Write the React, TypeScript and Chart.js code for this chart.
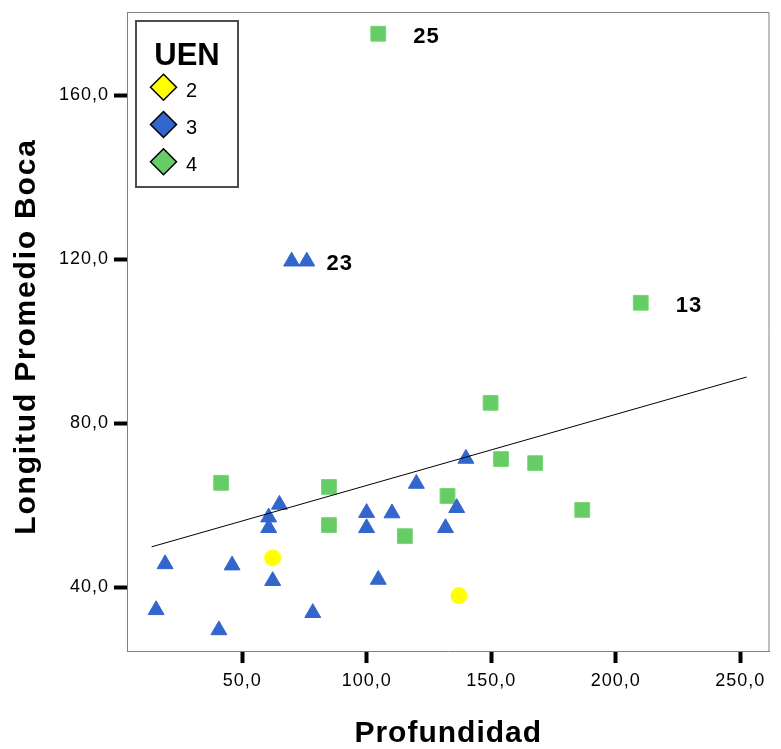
import { useEffect, useRef } from 'react';
import { Chart, registerables } from 'chart.js';

Chart.register(...registerables);

const FONT = '"Liberation Sans", Arial, Helvetica, sans-serif';

// Axis ticks and ranges
const xTickValues = [50, 100, 150, 200, 250];
const yTickValues = [40, 80, 120, 160];
const xRange = [3.7, 261.7];
const yRange = [24.5, 180.3];

// Axis titles
const xTitle = 'Profundidad';
const yTitle = 'Longitud Promedio Boca';

// Legend
const legendTitle = 'UEN';
const groupNames = ['2', '3', '4'];
const groupColors = ['#FFFF00', '#3366CC', '#66CC66'];

// UEN 2 (yellow circles)
const uen2X = [62.2, 137.0];
const uen2Y = [47.2, 38.0];

// UEN 3 (blue triangles)
const uen3X = [15.4, 19.0, 40.6, 45.9, 60.6, 60.6, 62.2, 64.9, 69.8, 75.9, 78.3, 99.9, 99.9, 104.6, 110.1, 119.9, 131.6, 136.1, 139.8];
const uen3Y = [34.5, 45.7, 29.6, 45.4, 57.1, 54.5, 41.6, 60.2, 119.5, 119.5, 33.8, 58.2, 54.5, 41.9, 58.1, 65.3, 54.5, 59.4, 71.4];

// UEN 4 (green squares)
const uen4X = [41.5, 84.8, 84.8, 104.6, 115.3, 132.4, 149.7, 153.9, 167.6, 186.5, 210.0];
const uen4Y = [65.5, 64.5, 55.2, 175.0, 52.5, 62.3, 85.0, 71.3, 70.3, 58.9, 109.4];

// Fit line (total)
const fitX = [13.6, 252.5];
const fitY = [49.9, 91.3];

// Case labels
const caseLabels = ['25', '13', '23'];
const caseLabelDataset = [3, 3, 2];
const caseLabelIndex = [3, 10, 8];

const toPoints = (xs: number[], ys: number[]) => xs.map((x, i) => ({ x, y: ys[i] }));
const fmt = (v: number) => Number(v).toFixed(1).replace('.', ',');

const decorPlugin = {
  id: 'decor',
  beforeDraw(chart: any) {
    chart.ctx.letterSpacing = '1px';
  },
  beforeDatasetsDraw(chart: any) {
    const { ctx, chartArea: a } = chart;
    ctx.save();
    ctx.strokeStyle = '#808080';
    ctx.lineWidth = 1;
    ctx.beginPath();
    ctx.moveTo(a.left, a.top + 0.5);
    ctx.lineTo(a.right - 0.5, a.top + 0.5);
    ctx.lineTo(a.right - 0.5, a.bottom);
    ctx.stroke();
    ctx.restore();
  },
  afterDatasetsDraw(chart: any) {
    const { ctx } = chart;
    ctx.save();
    ctx.fillStyle = '#000';
    ctx.font = `bold 22px ${FONT}`;
    ctx.letterSpacing = '1px';
    ctx.textAlign = 'left';
    ctx.textBaseline = 'middle';
    caseLabels.forEach((t, k) => {
      const el = chart.getDatasetMeta(caseLabelDataset[k]).data[caseLabelIndex[k]];
      if (!el) return;
      ctx.fillText(t, el.x + 35, el.y + 3);
    });
    ctx.restore();
  },
  afterDraw(chart: any) {
    const { ctx, chartArea: a } = chart;
    ctx.save();
    // Legend box
    const bx = a.left + 9;
    const by = a.top + 9;
    const bw = 102;
    const bh = 166;
    ctx.fillStyle = '#fff';
    ctx.fillRect(bx, by, bw, bh);
    ctx.strokeStyle = '#4d4d4d';
    ctx.lineWidth = 2;
    ctx.strokeRect(bx, by, bw, bh);
    ctx.fillStyle = '#000';
    ctx.font = `bold 31px ${FONT}`;
    ctx.letterSpacing = '0px';
    ctx.textAlign = 'center';
    ctx.textBaseline = 'alphabetic';
    ctx.fillText(legendTitle, bx + bw / 2, by + 44);
    groupNames.forEach((name, i) => {
      const cy = by + 66.3 + i * 37.2;
      const cx = bx + 27.5;
      const h = 13;
      ctx.beginPath();
      ctx.moveTo(cx, cy - h);
      ctx.lineTo(cx + h, cy);
      ctx.lineTo(cx, cy + h);
      ctx.lineTo(cx - h, cy);
      ctx.closePath();
      ctx.fillStyle = groupColors[i];
      ctx.fill();
      ctx.strokeStyle = '#000';
      ctx.lineWidth = 1.5;
      ctx.stroke();
      ctx.fillStyle = '#000';
      ctx.font = `20px ${FONT}`;
      ctx.textAlign = 'left';
      ctx.fillText(name, bx + 50, cy + 9.5);
    });
    // Axis titles
    ctx.fillStyle = '#000';
    ctx.font = `bold 30px ${FONT}`;
    ctx.letterSpacing = '1px';
    ctx.textAlign = 'center';
    ctx.textBaseline = 'alphabetic';
    ctx.fillText(xTitle, (a.left + a.right) / 2, a.bottom + 91);
    ctx.translate(35, (a.top + a.bottom) / 2 + 5);
    ctx.rotate(-Math.PI / 2);
    ctx.letterSpacing = '1.8px';
    ctx.fillText(yTitle, 0, 0);
    ctx.restore();
    ctx.letterSpacing = '0px';
  },
};

export default function App() {
  const ref = useRef<HTMLCanvasElement>(null);
  useEffect(() => {
    const canvas = ref.current;
    if (!canvas) return;
    const tickFont = { family: FONT, size: 18 };
    const chart = new Chart(canvas, {
      type: 'scatter',
      data: {
        datasets: [
          {
            label: 'Total',
            data: toPoints(fitX, fitY),
            showLine: true,
            borderColor: '#000',
            borderWidth: 1,
            pointRadius: 0,
            fill: false,
          },
          {
            label: groupNames[0],
            data: toPoints(uen2X, uen2Y),
            pointStyle: 'circle',
            pointRadius: 8,
            backgroundColor: groupColors[0],
            borderColor: groupColors[0],
            borderWidth: 1,
          },
          {
            label: groupNames[1],
            data: toPoints(uen3X, uen3Y),
            pointStyle: 'triangle',
            pointRadius: 9.2,
            backgroundColor: groupColors[1],
            borderColor: groupColors[1],
            borderWidth: 1,
          },
          {
            label: groupNames[2],
            data: toPoints(uen4X, uen4Y),
            pointStyle: 'rect',
            pointRadius: 10.5,
            backgroundColor: groupColors[2],
            borderColor: '#7ad67a',
            borderWidth: 1,
          },
        ],
      } as any,
      options: {
        animation: false,
        responsive: false,
        events: [],
        layout: { padding: { left: 0, top: 12, right: 10, bottom: 0 } },
        plugins: {
          legend: { display: false },
          tooltip: { enabled: false },
          title: { display: false },
        },
        scales: {
          x: {
            type: 'linear',
            position: 'bottom',
            min: xRange[0],
            max: xRange[1],
            afterBuildTicks: (s: any) => {
              s.ticks = xTickValues.map((v) => ({ value: v }));
            },
            afterFit: (s: any) => {
              s.height = 98;
              s.paddingLeft = 0;
              s.paddingRight = 0;
              s.paddingTop = 0;
              s.paddingBottom = 0;
            },
            grid: {
              display: true,
              drawOnChartArea: false,
              drawTicks: true,
              tickLength: 12,
              tickWidth: 4,
              tickColor: '#000',
              color: '#000',
            },
            border: { display: true, color: '#808080', width: 1 },
            ticks: {
              padding: 7,
              color: '#000',
              font: tickFont,
              maxRotation: 0,
              autoSkip: false,
              callback: (v: any) => fmt(v),
            },
          },
          y: {
            type: 'linear',
            position: 'left',
            min: yRange[0],
            max: yRange[1],
            afterBuildTicks: (s: any) => {
              s.ticks = yTickValues.map((v) => ({ value: v }));
            },
            afterFit: (s: any) => {
              s.width = 127;
              s.paddingLeft = 0;
              s.paddingRight = 0;
              s.paddingTop = 0;
              s.paddingBottom = 0;
            },
            grid: {
              display: true,
              drawOnChartArea: false,
              drawTicks: true,
              tickLength: 13,
              tickWidth: 4,
              tickColor: '#000',
              color: '#000',
            },
            border: { display: true, color: '#808080', width: 1 },
            ticks: {
              padding: 5,
              color: '#000',
              font: tickFont,
              autoSkip: false,
              callback: (v: any) => fmt(v),
            },
          },
        },
      } as any,
      plugins: [decorPlugin],
    });
    return () => chart.destroy();
  }, []);
  return (
    <div style={{ position: 'absolute', left: 0, top: 0, width: 781, height: 749, background: '#fff' }}>
      <canvas ref={ref} width={781} height={749} style={{ display: 'block', width: 781, height: 749 }} />
    </div>
  );
}
